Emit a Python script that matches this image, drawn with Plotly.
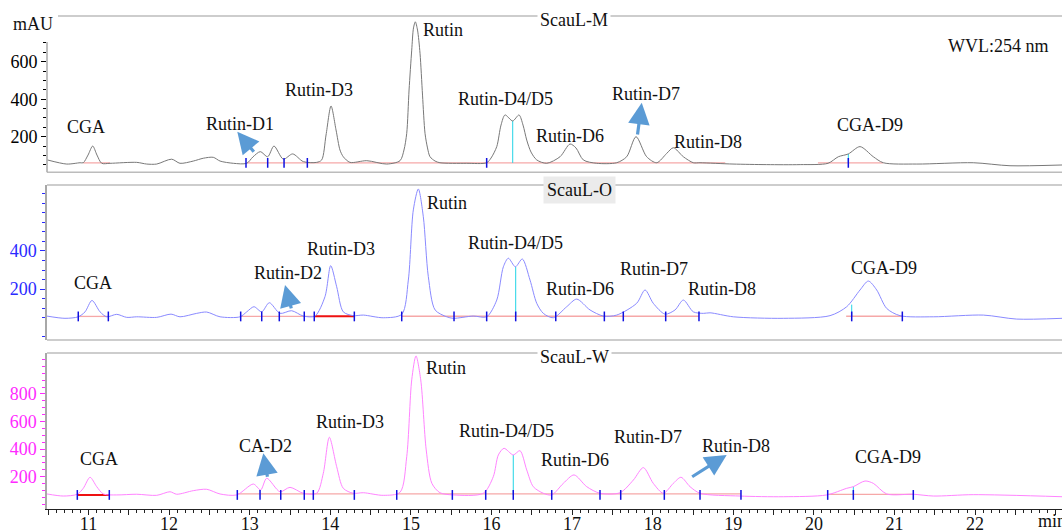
import plotly.graph_objects as go

# ---------------- data (retention time in min, absorbance in mAU) ----------------
M_t = [10.49, 10.73, 10.895, 10.935, 10.994, 11.052, 11.105, 11.164, 11.267, 11.598, 11.722, 11.846,
       12.032, 12.135, 12.30, 12.424, 12.548, 12.632, 12.797, 12.963, 13.04, 13.131, 13.223, 13.301,
       13.417, 13.533, 13.665, 13.831, 13.893, 13.947, 14.009, 14.071, 14.12, 14.161, 14.244, 14.452,
       14.70, 14.865, 14.914, 14.948, 14.977, 15.01, 15.032, 15.055, 15.082, 15.113, 15.144, 15.175,
       15.206, 15.237, 15.30, 15.36, 15.692, 15.94, 15.994, 16.065, 16.118, 16.168, 16.263, 16.341,
       16.391, 16.437, 16.49, 16.561, 16.685, 16.85, 16.974, 17.048, 17.139, 17.305, 17.553, 17.677,
       17.793, 17.925, 18.05, 18.174, 18.256, 18.38, 18.504, 18.587, 18.996, 19.414, 19.83, 20.175,
       20.303, 20.427, 20.572, 20.737, 20.861, 21.276, 21.977, 22.433, 23.078]
M_v = [76, 54, 61, 61, 102, 150, 102, 58, 58, 63, 54, 54,
       80, 58, 70, 85, 90, 70, 58, 58, 92, 120, 93, 150,
       80, 108, 67, 63, 76, 209, 364, 236, 129, 93, 63, 72,
       54, 72, 129, 218, 449, 662, 780, 813, 769, 645, 422, 218,
       140, 93, 70, 61, 58, 61, 86, 147, 262, 316, 284, 316,
       262, 182, 118, 76, 58, 93, 161, 140, 76, 58, 61, 93,
       200, 93, 61, 111, 141, 93, 61, 61, 54, 51, 51, 58,
       93, 108, 147, 93, 61, 54, 61, 45, 49]

O_t = [10.48, 10.708, 10.873, 10.957, 11.043, 11.143, 11.226, 11.35, 11.474, 11.598, 11.846, 12.024,
       12.135, 12.342, 12.466, 12.632, 12.88, 12.963, 13.053, 13.149, 13.243, 13.376, 13.52, 13.665,
       13.81, 13.934, 14.005, 14.079, 14.161, 14.285, 14.41, 14.657, 14.886, 14.968, 15.03, 15.092,
       15.154, 15.216, 15.30, 15.444, 15.526, 15.774, 15.94, 16.065, 16.147, 16.209, 16.296, 16.382,
       16.478, 16.561, 16.643, 16.767, 16.933, 17.057, 17.222, 17.387, 17.553, 17.801, 17.905, 18.007,
       18.153, 18.277, 18.38, 18.504, 18.628, 18.711, 19.0, 19.62, 20.2, 20.407, 20.572, 20.675,
       20.779, 20.903, 21.068, 21.481, 22.102, 22.516, 23.078]
O_v = [58, 46, 54, 80, 140, 80, 54, 67, 51, 54, 51, 68,
       54, 72, 79, 54, 54, 80, 107, 80, 128, 72, 86, 58,
       58, 160, 323, 212, 80, 60, 63, 49, 67, 247, 616, 726,
       580, 265, 90, 54, 46, 58, 54, 142, 317, 362, 317, 358,
       247, 125, 72, 49, 107, 147, 90, 58, 63, 125, 195, 125,
       68, 90, 142, 80, 72, 75, 54, 46, 60, 107, 195, 242,
       195, 98, 60, 54, 63, 42, 46]

W_t = [10.485, 10.687, 10.861, 10.935, 11.019, 11.102, 11.184, 11.35, 11.598, 11.846, 12.011, 12.094,
       12.30, 12.466, 12.632, 12.839, 13.045, 13.136, 13.211, 13.376, 13.5, 13.665, 13.831, 13.913,
       13.988, 14.079, 14.161, 14.285, 14.41, 14.657, 14.865, 14.948, 15.01, 15.063, 15.122, 15.19,
       15.26, 15.36, 15.526, 15.898, 16.022, 16.085, 16.155, 16.27, 16.353, 16.437, 16.518, 16.643,
       16.747, 16.891, 17.024, 17.181, 17.346, 17.594, 17.76, 17.884, 18.007, 18.132, 18.256, 18.351,
       18.463, 18.587, 19.083, 19.62, 20.159, 20.407, 20.489, 20.634, 20.737, 20.903, 21.233, 21.481,
       21.977, 23.078]
W_v = [75, 60, 73, 116, 196, 128, 75, 68, 73, 65, 91, 73,
       99, 109, 75, 68, 147, 104, 189, 91, 123, 80, 80, 225,
       486, 273, 116, 80, 84, 65, 87, 345, 902, 1076, 902, 394,
       152, 84, 68, 80, 200, 358, 406, 358, 389, 249, 128, 80,
       68, 152, 213, 128, 80, 84, 176, 266, 152, 80, 152, 196,
       128, 80, 60, 55, 68, 116, 128, 169, 152, 75, 73, 60,
       70, 55]

# peak labels: text, time, mAU
M_lab_text = ["CGA", "Rutin-D1", "Rutin-D3", "Rutin", "Rutin-D4/D5", "Rutin-D6", "Rutin-D7", "Rutin-D8", "CGA-D9", "WVL:254 nm"]
M_lab_t = [10.969, 12.883, 13.86, 15.398, 16.176, 16.968, 17.915, 18.69, 20.70, 22.293]
M_lab_v = [253, 268, 449, 769, 399, 204, 428, 173, 262, 685]

O_lab_text = ["CGA", "Rutin-D2", "Rutin-D3", "Rutin", "Rutin-D4/D5", "Rutin-D6", "Rutin-D7", "Rutin-D8", "CGA-D9"]
O_lab_t = [11.05, 13.479, 14.127, 15.448, 16.292, 17.092, 18.016, 18.86, 20.866]
O_lab_v = [230, 286, 410, 651, 440, 200, 304, 200, 309]

W_lab_text = ["CGA", "CA-D2", "Rutin-D3", "Rutin", "Rutin-D4/D5", "Rutin-D6", "Rutin-D7", "Rutin-D8", "CGA-D9"]
W_lab_t = [11.128, 13.196, 14.25, 15.439, 16.189, 17.032, 17.942, 19.034, 20.923]
W_lab_v = [329, 423, 597, 987, 534, 321, 486, 423, 341]

# arrows: head time, head mAU, tail time, tail mAU
M_arrow_head_t = [12.846, 17.864]
M_arrow_head_v = [227, 381]
M_arrow_tail_t = [13.066, 17.809]
M_arrow_tail_v = [112, 204]
O_arrow_head_t = [13.438]
O_arrow_head_v = [221]
O_arrow_tail_t = [13.521]
O_arrow_tail_v = [90]
W_arrow_head_t = [13.169, 18.918]
W_arrow_head_v = [370, 358]
W_arrow_tail_t = [13.223, 18.471]
W_arrow_tail_v = [189, 193]

# integration baselines: start, end (min), level (mAU), strong?
M_base_start = [10.935, 12.963, 14.244, 20.05]
M_base_end = [11.267, 14.244, 18.90, 20.86]
M_base_level = [60, 60, 60, 60]
M_base_strong = [False, False, False, False]
O_base_start = [10.873, 12.888, 13.801, 14.886, 20.40]
O_base_end = [11.246, 13.801, 14.298, 18.574, 21.097]
O_base_level = [56, 56, 57, 57, 57]
O_base_strong = [False, False, True, False, False]
W_base_start = [10.861, 12.846, 14.824, 20.171]
W_base_end = [11.258, 14.298, 19.095, 21.233]
W_base_level = [68, 75, 75, 72]
W_base_strong = [True, False, False, False]

# peak start/end marks (min)
M_marks = [12.954, 13.223, 13.426, 13.715, 15.94, 20.427]
O_marks = [10.873, 11.246, 12.888, 13.149, 13.367, 13.677, 13.801, 14.298, 14.886, 15.535, 15.94,
           16.30, 16.797, 17.40, 17.635, 18.161, 18.574, 20.469, 21.097]
W_marks = [10.861, 11.258, 12.846, 13.128, 13.385, 13.677, 13.789, 14.298, 14.824, 15.514, 15.928,
           16.27, 16.747, 17.346, 17.603, 18.144, 18.587, 19.095, 20.171, 20.489, 21.233]

# peak split drop lines: time, top mAU
M_drop_t = [16.263, 20.427]
M_drop_v = [284, 108]
O_drop_t = [16.30, 20.469]
O_drop_v = [317, 118]
W_drop_t = [16.27, 20.489]
W_drop_v = [358, 128]

X_TICKS = [10.5 + 0.5 * i for i in range(26)]

# ---------------- layout geometry ----------------
W_PX, H_PX = 1062, 530
L, R, T, B = 47, 0, 16, 21
PT, PB = T, H_PX - B


def fy(px):
    return (PB - px) / (PB - PT)


def fx(px):
    return (px - L) / (W_PX - L - R)


SERIF = "Liberation Serif"
TXT = dict(family=SERIF, size=18, color="#111111")
panels = [
    dict(name="M", t=M_t, v=M_v, color="#787878", tick="#000000", dom=[fy(172.3), 1.0],
         rng=[10, 844], major=[200, 400, 600], minor=[50, 100, 150, 250, 300, 350, 450, 500, 550, 650, 700],
         lab=(M_lab_text, M_lab_t, M_lab_v),
         arr=(M_arrow_head_t, M_arrow_head_v, M_arrow_tail_t, M_arrow_tail_v),
         base=(M_base_start, M_base_end, M_base_level, M_base_strong), marks=M_marks,
         drop=(M_drop_t, M_drop_v)),
    dict(name="O", t=O_t, v=O_v, color="#8a8aff", tick="#2a2aff", dom=[fy(340), fy(185)],
         rng=[-68, 747], major=[200, 400], minor=[-50, 50, 100, 150, 250, 300, 350, 450, 500, 550, 600, 650, 700],
         lab=(O_lab_text, O_lab_t, O_lab_v),
         arr=(O_arrow_head_t, O_arrow_head_v, O_arrow_tail_t, O_arrow_tail_v),
         base=(O_base_start, O_base_end, O_base_level, O_base_strong), marks=O_marks,
         drop=(O_drop_t, O_drop_v)),
    dict(name="W", t=W_t, v=W_v, color="#ff84ff", tick="#ff2aff", dom=[0.0, fy(353)],
         rng=[-34, 1097], major=[200, 400, 600, 800],
         minor=[0, 50, 100, 150, 250, 300, 350, 450, 500, 550, 650, 700, 750, 850, 900, 950, 1000, 1050],
         lab=(W_lab_text, W_lab_t, W_lab_v),
         arr=(W_arrow_head_t, W_arrow_head_v, W_arrow_tail_t, W_arrow_tail_v),
         base=(W_base_start, W_base_end, W_base_level, W_base_strong), marks=W_marks,
         drop=(W_drop_t, W_drop_v)),
]

fig = go.Figure()
annotations = []
shapes = []
layout = dict(width=W_PX, height=H_PX, margin=dict(l=L, r=R, t=T, b=B, autoexpand=False),
              paper_bgcolor="white", plot_bgcolor="white", showlegend=False, font=TXT)

for i, p in enumerate(panels):
    k = "" if i == 0 else str(i + 1)
    xa, ya = "x" + k, "y" + k
    # integration baselines
    bs, be, bl, bstrong = p["base"]
    for s, e, lv, st in zip(bs, be, bl, bstrong):
        fig.add_trace(go.Scatter(x=[s, e], y=[lv, lv], mode="lines", xaxis=xa, yaxis=ya,
                                 line=dict(color="#ee1111" if st else "#f6a8a8", width=2 if st else 1.3),
                                 hoverinfo="skip"))
    # drop lines
    dt, dv = p["drop"]
    for t0, v0 in zip(dt, dv):
        fig.add_trace(go.Scatter(x=[t0, t0], y=[bl[0], v0], mode="lines", xaxis=xa, yaxis=ya,
                                 line=dict(color="#22d4e6", width=1), hoverinfo="skip"))
    # signal
    fig.add_trace(go.Scatter(x=p["t"], y=p["v"], mode="lines", xaxis=xa, yaxis=ya,
                             line=dict(color=p["color"], width=1, shape="spline", smoothing=0.8),
                             name="ScauL-" + p["name"]))
    # marks
    fig.add_trace(go.Scatter(x=p["marks"], y=[bl[0]] * len(p["marks"]), mode="markers", xaxis=xa, yaxis=ya,
                             marker=dict(symbol="line-ns", size=7, line=dict(color="#1010e0", width=1.5)),
                             hoverinfo="skip"))
    # peak labels
    for txt, t0, v0 in zip(*p["lab"]):
        annotations.append(dict(x=t0, y=v0, xref=xa, yref=ya, text=txt, showarrow=False, font=TXT,
                                xanchor="center", yanchor="middle"))
    # arrows
    for ht, hv, tt, tv in zip(*p["arr"]):
        annotations.append(dict(x=ht, y=hv, ax=tt, ay=tv, xref=xa, yref=ya, axref=xa, ayref=ya,
                                text="", showarrow=True, arrowhead=2, arrowsize=1.35, arrowwidth=3.2,
                                arrowcolor="#5b9bd5", standoff=0, startstandoff=0))

    xaxis = dict(domain=[0, 1], range=[10.485, 23.078], showgrid=False, zeroline=False, automargin=False,
                 anchor=ya, showline=False, ticks="", showticklabels=False)
    if i > 0:
        xaxis["matches"] = "x"
    if i == 2:
        xaxis.update(showline=True, linecolor="#222222", linewidth=1, ticks="outside", ticklen=5,
                     tickwidth=1, tickcolor="#222222", showticklabels=True, ticklabelstandoff=-7,
                     tickvals=X_TICKS,
                     ticktext=[str(int(v)) if v == int(v) else "" for v in X_TICKS],
                     tickfont=TXT,
                     minor=dict(dtick=0.1, tick0=10.5, ticks="outside", ticklen=3, tickcolor="#222222",
                                tickwidth=1, showgrid=False))
    layout["xaxis" + k] = xaxis
    layout["yaxis" + k] = dict(domain=p["dom"], range=p["rng"], anchor=xa, showgrid=False, zeroline=False,
                               automargin=False,
                               showline=(i > 0), linecolor="#a8a8a8", linewidth=1.5,
                               ticks="outside", ticklen=5, tickwidth=1, tickcolor=p["tick"],
                               tickvals=p["major"], ticktext=[str(v) for v in p["major"]],
                               tickfont=dict(family=SERIF, size=18, color=p["tick"]),
                               minor=dict(tickvals=p["minor"], ticks="outside", ticklen=3,
                                          tickcolor=p["tick"], tickwidth=1, showgrid=False))

# panel frame lines
GRAY = "#bcbcbc"
frame_lines = [(fx(58), 1.0), (0, fy(172.3)), (0, fy(185)), (0, fy(340)), (0, fy(353))]
for x0, yv in frame_lines:
    shapes.append(dict(type="line", xref="paper", yref="paper", x0=x0, x1=1, y0=yv, y1=yv,
                       line=dict(color=GRAY, width=1.5), layer="below"))
# first panel left axis line (does not reach the top)
shapes.append(dict(type="line", xref="paper", yref="paper", x0=0, x1=0, y0=fy(172.3), y1=fy(42),
                   line=dict(color="#a8a8a8", width=1.5)))

# panel titles and misc text
annotations += [
    dict(x=fx(574), y=fy(20), xref="paper", yref="paper", text="ScauL-M", showarrow=False,
         xanchor="center", yanchor="middle", bgcolor="white", borderpad=2, font=TXT),
    dict(x=fx(579), y=fy(190), xref="paper", yref="paper", text="ScauL-O", showarrow=False,
         xanchor="center", yanchor="middle", bgcolor="#ebebeb", borderpad=3, font=TXT),
    dict(x=fx(574.5), y=fy(356.5), xref="paper", yref="paper", text="ScauL-W", showarrow=False,
         xanchor="center", yanchor="middle", bgcolor="white", borderpad=2, font=TXT),
    dict(x=fx(32.5), y=fy(24), xref="paper", yref="paper", text="mAU", showarrow=False,
         xanchor="center", yanchor="middle", font=TXT),
    dict(x=fx(1036), y=fy(521), xref="paper", yref="paper", text="min", showarrow=False,
         xanchor="left", yanchor="middle", font=TXT),
]

layout["annotations"] = annotations
layout["shapes"] = shapes
fig.update_layout(**layout)
fig.write_html("out.html", config={"displayModeBar": False},
               post_script="document.body.style.margin='0';document.body.style.overflow='hidden';")
